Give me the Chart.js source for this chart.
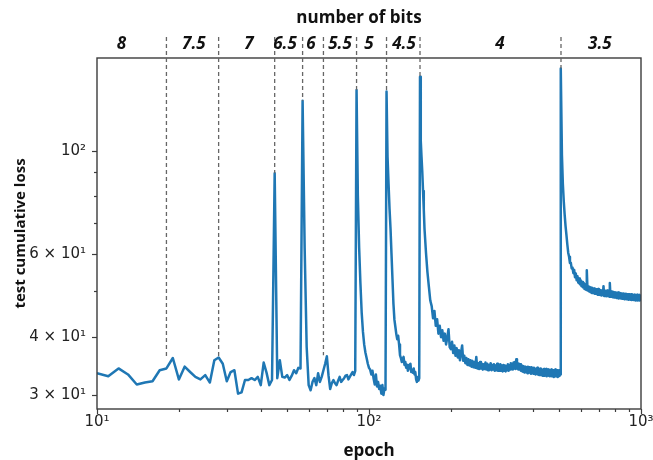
<!DOCTYPE html>
<html>
<head>
<meta charset="utf-8">
<script src="https://cdn.jsdelivr.net/npm/chart.js@4.4.1/dist/chart.umd.min.js"></script>
<style>
html,body{margin:0;padding:0;background:#fff;}
canvas{display:block;}
</style>
</head>
<body>
<canvas id="c" width="653" height="460"></canvas>
<script>
// ---- data ----
const bitLabels = ['8','7.5','7','6.5','6','5.5','5','4.5','4','3.5'];
const bitLabelEpochs = [12.3, 22.7, 36.2, 49.1, 61.2, 78.2, 100, 134.5, 303, 706];
const changeEpochs = [18, 28, 45, 57, 68, 90, 116, 154, 508];
const changeLineEnds = [36.2, 36.3, 89.5, 128, 36.5, 135, 134, 144, 150];

// loss for every epoch 10..159
const lossPerEpoch = [
  33.4, 32.9, 34.2, 33.2, 31.6, 31.9, 32.1, 33.9, 34.2, 36.0,
  32.4, 34.5, 33.6, 32.8, 32.4, 33.1, 31.9, 35.6, 36.1, 35.0,
  32.1, 33.6, 33.9, 30.2, 30.4, 32.3, 32.3, 32.6, 32.3, 32.8,
  31.5, 35.2, 33.5, 31.5, 32.3, 89.5, 32.6, 35.6, 32.8, 32.7,
  33.1, 32.3, 33.0, 33.9, 33.4, 34.3, 34.2, 128, 62, 38,
  31.5, 30.7, 32.0, 32.6, 31.5, 33.4, 32.0, 32.8, 33.9, 35.0,
  36.3, 33.0, 30.9, 31.8, 32.3, 31.8, 31.5, 32.2, 32.8, 32.0,
  32.3, 32.6, 33.0, 33.1, 32.4, 32.8, 33.2, 33.6, 33.1, 33.8,
  135, 80, 62, 52, 45, 41, 38.5, 37.0, 36.0, 35.0,
  34.3, 34.0, 33.2, 33.8, 32.5, 31.6, 33.2, 31.3, 32.0, 30.9,
  31.4, 30.2, 31.5, 30.0, 31.0, 30.8, 134, 97, 85, 75,
  68, 60, 53, 47, 43.5, 42, 40.5, 39.5, 40.2, 38.5,
  36.5, 36.0, 35.3, 35.8, 36.2, 34.8, 35.3, 34.3, 34.8, 33.8,
  34.2, 34.8, 35.0, 33.6, 34.0, 33.5, 34.2, 33.2, 33.6, 32.4,
  32.0, 32.8, 32.2, 32.6, 144, 105, 97, 90, 82, 75
];
// loss every 2nd epoch 160..506
const lossEvery2 = [
  68.0, 60.5, 55.0, 51.2, 47.8, 46.5, 43.8, 45.4, 42.2, 43.6,
  40.6, 42.2, 39.9, 41.3, 39.2, 40.6, 38.5, 39.8, 41.5, 38.0,
  37.6, 39.0, 36.9, 38.3, 36.4, 37.8, 36.1, 37.4, 35.6, 37.0,
  38.3, 35.5, 36.4, 35.1, 36.0, 34.8, 35.8, 34.7, 35.6, 34.5,
  35.5, 34.4, 35.3, 34.3, 36.2, 34.2, 35.1, 34.1, 35.3, 34.2,
  35.0, 34.0, 34.9, 34.1, 35.2, 34.0, 35.0, 33.9, 34.8, 34.0,
  35.1, 33.9, 34.8, 34.0, 34.9, 33.8, 34.7, 33.9, 35.0, 33.8,
  34.7, 33.8, 34.9, 33.8, 34.7, 33.7, 34.8, 33.8, 34.7, 33.7,
  34.6, 33.9, 34.9, 33.8, 34.7, 34.0, 35.1, 34.1, 35.0, 34.0,
  35.2, 34.2, 35.3, 34.1, 35.8, 34.2, 35.1, 34.0, 35.0, 34.1,
  34.9, 33.8, 34.7, 33.7, 34.6, 33.6, 34.5, 33.5, 34.5, 33.6,
  34.4, 33.4, 34.5, 33.6, 34.4, 33.5, 34.3, 33.3, 34.4, 33.5,
  34.2, 33.3, 34.3, 33.4, 34.1, 33.2, 34.2, 33.3, 34.3, 33.2,
  34.1, 33.1, 34.1, 33.2, 34.2, 33.1, 34.0, 33.0, 34.0, 33.2,
  34.1, 33.0, 33.9, 33.1, 34.1, 32.9, 33.9, 33.1, 34.0, 33.0,
  33.8, 32.9, 33.9, 33.0, 34.0, 32.9, 33.8, 33.0, 33.9, 32.8,
  33.8, 33.0, 34.0, 32.9, 33.8, 33.0, 33.9, 32.8, 33.8, 32.9,
  33.9, 33.0, 33.8, 33.2
];
// loss every 4th epoch 508..1000
const lossEvery4 = [
  150, 98, 85, 78, 73, 69, 66, 63, 60.5, 59.3,
  57.5, 57.6, 56.0, 56.2, 54.7, 55.6, 53.6, 54.6, 52.8, 53.9,
  52.2, 53.3, 51.8, 52.8, 51.3, 52.4, 51.0, 52.1, 50.6, 51.7,
  50.4, 55.5, 50.2, 51.3, 50.0, 51.1, 49.8, 50.9, 49.6, 50.8,
  49.6, 50.7, 49.4, 50.6, 49.4, 50.5, 49.2, 50.6, 49.2, 50.4,
  49.1, 50.3, 49.0, 50.3, 49.1, 51.3, 48.9, 50.2, 49.0, 50.1,
  48.8, 50.2, 48.9, 50.0, 48.7, 52.1, 48.9, 50.0, 48.7, 49.9,
  48.6, 49.8, 48.5, 49.8, 48.6, 49.7, 48.4, 49.6, 48.5, 49.7,
  48.3, 49.6, 48.4, 49.5, 48.3, 49.5, 48.2, 49.4, 48.3, 49.5,
  48.1, 49.3, 48.2, 49.4, 48.1, 49.3, 48.2, 49.3, 48.0, 49.3,
  48.1, 49.2, 48.0, 49.3, 47.9, 49.2, 48.0, 49.1, 47.9, 49.2,
  48.0, 49.1, 47.8, 49.0, 47.9, 49.2, 47.8, 49.0, 47.9, 49.1,
  47.8, 48.9, 47.9, 48.8
];

const xTickValues = [10,20,30,40,50,60,70,80,90,100,200,300,400,500,600,700,800,900,1000];
const xTickText = {10:'10¹', 100:'10²', 1000:'10³'};
const yTickValues = [30,40,50,60,70,80,90,100];
const yTickText = {30:'3 × 10¹', 40:'4 × 10¹', 60:'6 × 10¹', 100:'10²'};

// ---- build points ----
const points = [];
lossPerEpoch.forEach((v,i)=>points.push({x:10+i, y:v}));
lossEvery2.forEach((v,i)=>points.push({x:160+2*i, y:v}));
lossEvery4.forEach((v,i)=>points.push({x:508+4*i, y:v}));

const overlay = {
  id: 'overlay',
  afterDraw(chart) {
    const {ctx, chartArea: a, scales} = chart;
    const xs = scales.x, ys = scales.y;
    ctx.save();
    // tick marks
    ctx.strokeStyle = '#3c3c3c';
    ctx.lineWidth = 1.2;
    xTickValues.forEach(v => {
      const px = Math.round(xs.getPixelForValue(v)) + 0.5;
      const len = xTickText[v] ? 5 : 3;
      ctx.beginPath(); ctx.moveTo(px, a.bottom); ctx.lineTo(px, a.bottom + len); ctx.stroke();
    });
    yTickValues.forEach(v => {
      const py = Math.round(ys.getPixelForValue(v)) + 0.5;
      const len = yTickText[v] ? 5 : 3;
      ctx.beginPath(); ctx.moveTo(a.left, py); ctx.lineTo(a.left - len, py); ctx.stroke();
    });
    // box
    ctx.lineWidth = 1.4;
    ctx.strokeRect(a.left, a.top, a.right - a.left, a.bottom - a.top);
    // dashed change lines
    ctx.strokeStyle = '#666';
    ctx.lineWidth = 1.3;
    ctx.setLineDash([4,3]);
    changeEpochs.forEach((e,i) => {
      const px = xs.getPixelForValue(e);
      const py = ys.getPixelForValue(changeLineEnds[i]);
      ctx.beginPath(); ctx.moveTo(px, 37); ctx.lineTo(px, py); ctx.stroke();
    });
    ctx.setLineDash([]);
    // top texts
    ctx.fillStyle = '#111';
    ctx.textAlign = 'center';
    ctx.textBaseline = 'middle';
    ctx.font = 'bold 17px "Open Sans"';
    ctx.fillText('number of bits', 359, 18);
    ctx.font = 'italic bold 17px "Open Sans"';
    bitLabels.forEach((t,i) => {
      ctx.fillText(t, xs.getPixelForValue(bitLabelEpochs[i]), 44);
    });
    ctx.restore();
  }
};

new Chart(document.getElementById('c'), {
  type: 'line',
  data: {
    datasets: [{
      data: points,
      borderColor: '#1f77b4',
      borderWidth: 2.5,
      pointRadius: 0,
      tension: 0,
      fill: false,
      borderJoinStyle: 'round'
    }]
  },
  options: {
    responsive: false,
    devicePixelRatio: 1,
    animation: false,
    events: [],
    layout: { padding: { top: 58, right: 12, left: 0, bottom: 0 } },
    plugins: { legend: { display: false }, tooltip: { enabled: false } },
    scales: {
      x: {
        type: 'logarithmic',
        position: 'bottom',
        min: 10, max: 1000,
        border: { display: false },
        grid: { display: true, drawOnChartArea: false, drawTicks: true, tickLength: 4, tickColor: 'rgba(0,0,0,0)' },
        afterBuildTicks: s => { s.ticks = xTickValues.map(v => ({value: v})); },
        afterFit: s => { s.height = 51; s.paddingLeft = 0; s.paddingRight = 0; },
        ticks: {
          autoSkip: false, maxRotation: 0, padding: 0,
          color: '#222',
          font: { family: 'DejaVu Sans', size: 15 },
          callback: v => xTickText[v] || ''
        },
        title: {
          display: true, text: 'epoch', color: '#111',
          font: { family: 'Open Sans', size: 17, weight: 'bold', lineHeight: 1 },
          padding: { top: 0, bottom: 0 }
        }
      },
      y: {
        type: 'logarithmic',
        position: 'left',
        min: 28, max: 158,
        border: { display: false },
        grid: { display: true, drawOnChartArea: false, drawTicks: true, tickLength: 6, tickColor: 'rgba(0,0,0,0)' },
        afterBuildTicks: s => { s.ticks = yTickValues.map(v => ({value: v})); },
        afterFit: s => { s.width = 97; s.paddingTop = 0; s.paddingBottom = 0; },
        ticks: {
          autoSkip: false, padding: 5,
          color: '#222',
          font: { family: 'DejaVu Sans', size: 15 },
          callback: v => yTickText[v] || ''
        },
        title: {
          display: true, text: 'test cumulative loss', color: '#111',
          font: { family: 'Open Sans', size: 15, weight: 'bold' },
          padding: { top: 12, bottom: 0 }
        }
      }
    }
  },
  plugins: [overlay]
});
</script>
</body>
</html>
